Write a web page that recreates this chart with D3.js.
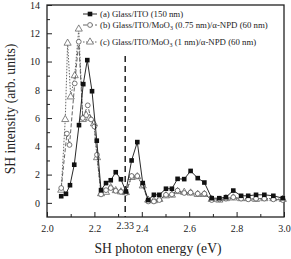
<!DOCTYPE html>
<html>
<head>
<meta charset="utf-8">
<script src="https://cdn.jsdelivr.net/npm/d3@7"></script>
<style>
  body { margin: 0; background: #fff; }
  svg { display: block; font-family: "Liberation Serif", "Times New Roman", serif; }
</style>
</head>
<body>
<div id="chart"></div>
<script>
// (a) Glass/ITO (150 nm)
const energyA = [2.06, 2.08, 2.097, 2.115, 2.135, 2.153, 2.17, 2.19, 2.21, 2.228, 2.249, 2.269, 2.29, 2.312, 2.333,
  2.357, 2.381, 2.404, 2.427, 2.451, 2.474, 2.502, 2.527, 2.551, 2.579, 2.606, 2.636, 2.664, 2.695, 2.727, 2.755,
  2.786, 2.819, 2.849, 2.882, 2.917, 2.955, 2.995];
const valuesA = [0.47, 0.64, 1.25, 2.7, 5.5, 8.4, 10.1, 7.9, 4.4, 0.9, 1.4, 1.6, 2.17, 1.67, 0.8,
  3.0, 4.3, 1.4, 0.2, 0.57, 0.57, 1.0, 1.0, 1.7, 1.68, 2.26, 1.75, 1.44, 0.33, 0.33, 0.4,
  0.87, 0.5, 0.5, 0.57, 0.57, 0.5, 0.33];

// (b) Glass/ITO/MoO3 (0.75 nm)/a-NPD (60 nm)
const energyB = [2.06, 2.084, 2.095, 2.117, 2.134, 2.151, 2.172, 2.186, 2.2, 2.211, 2.228, 2.249, 2.269, 2.29, 2.312, 2.333,
  2.357, 2.381, 2.404, 2.427, 2.451, 2.474, 2.502, 2.527, 2.551, 2.579, 2.606, 2.636, 2.664, 2.695, 2.727, 2.755,
  2.786, 2.819, 2.849, 2.882, 2.917, 2.955, 2.995];
const valuesB = [1.05, 4.9, 4.1, 8.45, 11.4, 6.0, 6.9, 5.9, 5.4, 3.4, 0.6, 0.9, 1.05, 0.85, 0.78, 0.7,
  1.9, 1.9, 1.27, 0.1, 0.1, 0.2, 0.57, 0.6, 0.87, 0.7, 0.73, 0.65, 0.65, 0.2, 0.25, 0.3,
  0.4, 0.3, 0.25, 0.3, 0.3, 0.25, 0.2];

// (c) Glass/ITO/MoO3 (1 nm)/a-NPD (60 nm)
const energyC = [2.06, 2.077, 2.087, 2.1, 2.117, 2.134, 2.151, 2.165, 2.18, 2.198, 2.211, 2.228, 2.249, 2.269, 2.29, 2.312, 2.333,
  2.357, 2.381, 2.404, 2.427, 2.451, 2.474, 2.502, 2.527, 2.551, 2.579, 2.606, 2.636, 2.664, 2.695, 2.727, 2.755,
  2.786, 2.819, 2.849, 2.882, 2.917, 2.955, 2.995];
const valuesC = [0.9, 5.9, 11.3, 7.5, 9.0, 12.3, 5.9, 6.2, 6.0, 5.6, 3.2, 0.65, 0.75, 1.08, 0.87, 0.78, 0.73,
  1.8, 1.85, 1.2, 0.2, 0.15, 0.25, 0.5, 0.55, 0.8, 0.75, 0.7, 0.6, 0.6, 0.25, 0.2, 0.3,
  0.35, 0.3, 0.3, 0.25, 0.3, 0.3, 0.25];

const legendLabels = [
  ["(a) Glass/ITO (150 nm)"],
  ["(b) Glass/ITO/MoO", "3", " (0.75 nm)/α-NPD (60 nm)"],
  ["(c) Glass/ITO/MoO", "3", " (1 nm)/α-NPD (60 nm)"]
];

const xTicks = [2.0, 2.2, 2.4, 2.6, 2.8, 3.0];
const xMinor = [2.1, 2.3, 2.5, 2.7, 2.9];
const yTicks = [0, 2, 4, 6, 8, 10, 12, 14];
const yMinor = [1, 3, 5, 7, 9, 11, 13];
const markerLine = 2.33;

const width = 291, height = 259;
const svg = d3.select("#chart").append("svg")
  .attr("width", width).attr("height", height);

const x = d3.scaleLinear().domain([2.0, 3.0]).range([47, 284]);
const y = d3.scaleLinear().domain([-1, 14]).range([217, 5]);

const ink = "#222";

// frame
svg.append("rect")
  .attr("x", x.range()[0]).attr("y", y.range()[1])
  .attr("width", x.range()[1] - x.range()[0])
  .attr("height", y.range()[0] - y.range()[1])
  .attr("fill", "none").attr("stroke", ink).attr("stroke-width", 1.3);

// axes with inward ticks
svg.append("g")
  .attr("transform", `translate(0,${y.range()[0]})`)
  .call(d3.axisBottom(x).tickValues(xTicks).tickSize(-5).tickPadding(8).tickFormat(d3.format(".1f")));
svg.append("g")
  .attr("transform", `translate(0,${y.range()[0]})`)
  .call(d3.axisBottom(x).tickValues(xMinor).tickSize(-3).tickFormat(""));
svg.append("g")
  .attr("transform", `translate(${x.range()[0]},0)`)
  .call(d3.axisLeft(y).tickValues(yTicks).tickSize(-5).tickPadding(7));
svg.append("g")
  .attr("transform", `translate(${x.range()[0]},0)`)
  .call(d3.axisLeft(y).tickValues(yMinor).tickSize(-3).tickFormat(""));

svg.selectAll(".domain").remove();
svg.selectAll(".tick line").attr("stroke", ink).attr("stroke-width", 1);
svg.selectAll(".tick text")
  .attr("font-family", "Liberation Serif, serif")
  .attr("font-size", 10).attr("fill", ink);

// 2.33 marker
svg.append("line")
  .attr("x1", x(markerLine)).attr("x2", x(markerLine))
  .attr("y1", y(10.4)).attr("y2", y.range()[0])
  .attr("stroke", ink).attr("stroke-width", 1.5)
  .attr("stroke-dasharray", "6,4");
svg.append("text")
  .attr("x", x(markerLine)).attr("y", y.range()[0] + 12)
  .attr("text-anchor", "middle").attr("font-size", 10).attr("fill", ink)
  .text("2.33");

// series
const series = [
  { e: energyA, v: valuesA, dash: null, shape: "square" },
  { e: energyB, v: valuesB, dash: "4,2", shape: "circle" },
  { e: energyC, v: valuesC, dash: "1.5,1.5", shape: "triangle" }
];

const line = d3.line().x(d => x(d[0])).y(d => y(d[1]));

function drawMarker(g, shape, cx, cy) {
  if (shape === "square") {
    g.append("rect").attr("x", cx - 2.3).attr("y", cy - 2.3)
      .attr("width", 4.6).attr("height", 4.6).attr("fill", "#111");
  } else if (shape === "circle") {
    g.append("circle").attr("cx", cx).attr("cy", cy).attr("r", 2.4)
      .attr("fill", "#fff").attr("stroke", "#555").attr("stroke-width", 0.8);
  } else {
    const s = d3.symbol().type(d3.symbolTriangle).size(22);
    g.append("path").attr("d", s()).attr("transform", `translate(${cx},${cy})`)
      .attr("fill", "#fff").attr("stroke", "#666").attr("stroke-width", 0.8);
  }
}

// draw back to front: c, b, a
series.slice().reverse().forEach(s => {
  const pts = s.e.map((e, i) => [e, s.v[i]]);
  svg.append("path").datum(pts)
    .attr("fill", "none").attr("stroke", s.shape === "square" ? "#111" : "#555")
    .attr("stroke-width", 0.9)
    .attr("stroke-dasharray", s.dash)
    .attr("d", line);
  const g = svg.append("g");
  pts.forEach(p => drawMarker(g, s.shape, x(p[0]), y(p[1])));
});

// legend
const legendY = [14, 25, 42];
legendLabels.forEach((parts, i) => {
  const s = series[i];
  const ly = legendY[i];
  svg.append("line").attr("x1", 83).attr("x2", 97).attr("y1", ly).attr("y2", ly)
    .attr("stroke", s.shape === "square" ? "#111" : "#555").attr("stroke-width", 0.9)
    .attr("stroke-dasharray", s.dash);
  drawMarker(svg.append("g"), s.shape, 90, ly);
  const t = svg.append("text").attr("x", 100).attr("y", ly + 3)
    .attr("font-size", 8.8).attr("fill", ink);
  parts.forEach((p, j) => {
    const ts = t.append("tspan").text(p);
    if (j === 1) ts.attr("font-size", 6).attr("dy", 2);
    if (j === 2) ts.attr("dy", -2);
  });
});

// axis titles
svg.append("text")
  .attr("transform", "rotate(-90)")
  .attr("x", -109).attr("y", 15)
  .attr("text-anchor", "middle").attr("font-size", 13.6).attr("fill", ink)
  .text("SH intensity (arb. units)");
svg.append("text")
  .attr("x", 158).attr("y", 253)
  .attr("text-anchor", "middle").attr("font-size", 13.6).attr("fill", ink)
  .text("SH photon energy (eV)");
</script>
</body>
</html>
